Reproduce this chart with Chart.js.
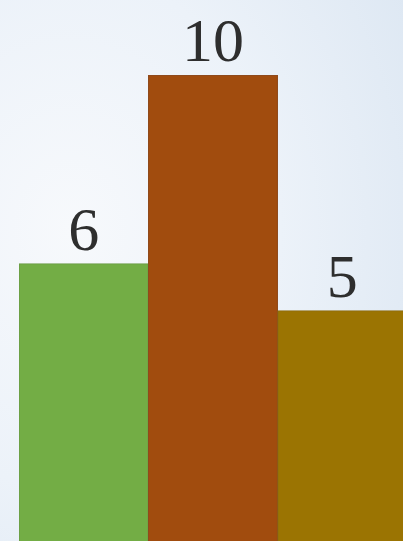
<!DOCTYPE html>
<html>
<head>
<meta charset="utf-8">
<script src="https://cdn.jsdelivr.net/npm/chart.js@4"></script>
<style>
    html, body {
        margin: 0;
        padding: 0;
        width: 403px;
        height: 541px;
        overflow: hidden;
        background: radial-gradient(ellipse 420px 520px at 70px 230px, #f7f9fc 0%, #ecf2f9 50%, #dbe6f2 100%);
    }
    #wrap {
        position: absolute;
        left: 0;
        top: 0;
        width: 407px;
        height: 546px;
    }
</style>
</head>
<body>
<div id="wrap"><canvas id="barChart"></canvas></div>
<script>
const categories = ['A', 'B', 'C'];
const values = [6, 10, 5];
const barColors = ['#73ad45', '#a14c0e', '#9b7402'];
const edgeColors = ['#6a9a45', '#8f4a1c', '#8a6a12'];

const valueLabels = {
    id: 'valueLabels',
    afterDatasetsDraw(chart) {
        const ctx = chart.ctx;
        const meta = chart.getDatasetMeta(0);
        ctx.save();
        ctx.font = '62px "Liberation Serif", "DejaVu Serif", serif';
        ctx.fillStyle = '#2e2e2e';
        ctx.textAlign = 'center';
        ctx.textBaseline = 'alphabetic';
        meta.data.forEach(function (bar, i) {
            ctx.fillText(String(values[i]), bar.x, bar.y - 14);
        });
        ctx.restore();
    }
};

const ctx = document.getElementById('barChart').getContext('2d');
window.barChart = new Chart(ctx, {
    type: 'bar',
    data: {
        labels: categories,
        datasets: [{
            data: values,
            backgroundColor: barColors,
            borderColor: edgeColors,
            borderWidth: 1,
            barPercentage: 1,
            categoryPercentage: 1
        }]
    },
    options: {
        responsive: true,
        maintainAspectRatio: false,
        animation: false,
        layout: {
            padding: { left: 19, right: 0, top: 0, bottom: 0 }
        },
        plugins: {
            legend: { display: false },
            tooltip: { enabled: false }
        },
        scales: {
            x: { display: false },
            y: { display: false, min: 0, max: 11.6 }
        }
    },
    plugins: [valueLabels]
});
</script>
</body>
</html>
